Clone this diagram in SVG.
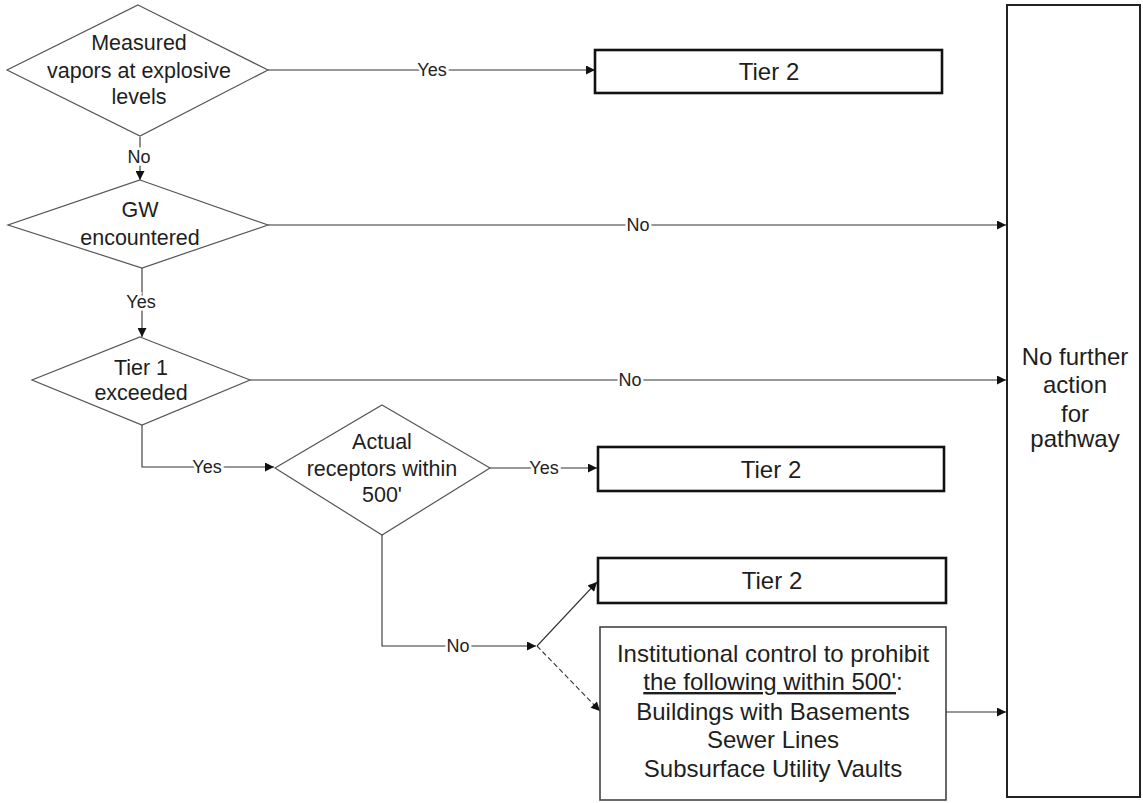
<svg xmlns="http://www.w3.org/2000/svg" width="1143" height="803" viewBox="0 0 1143 803">
<style>
.d{fill:#fff;stroke:#555;stroke-width:1.2}
.b{fill:#fff;stroke:#111;stroke-width:2.6}
.bi{fill:#fff;stroke:#444;stroke-width:1.6}
.t{font-family:"Liberation Sans",Arial,sans-serif;font-size:21.5px;fill:#1e1e1e;text-anchor:middle}
.tb{font-family:"Liberation Sans",Arial,sans-serif;font-size:24px;fill:#1e1e1e;text-anchor:middle}
.l{font-family:"Liberation Sans",Arial,sans-serif;font-size:18px;fill:#222;text-anchor:middle;stroke:#fff;stroke-width:5;paint-order:stroke}
.c{fill:none;stroke:#333;stroke-width:1.1}
</style>
<defs>
<marker id="a" viewBox="0 0 10 10" refX="10" refY="5" markerWidth="10" markerHeight="9" markerUnits="userSpaceOnUse" orient="auto">
<path d="M0,0 L10,5 L0,10 z" fill="#111"/>
</marker>
</defs>
<rect width="1143" height="803" fill="#fff"/>
<g id="connectors">
<path class="c" d="M268,70 H595" marker-end="url(#a)"/>
<path class="c" d="M140,137 V180" marker-end="url(#a)"/>
<path class="c" d="M268,225 H1006" marker-end="url(#a)"/>
<path class="c" d="M142,268 V337" marker-end="url(#a)"/>
<path class="c" d="M250,380 H1006" marker-end="url(#a)"/>
<path class="c" d="M142,425 V467 H274" marker-end="url(#a)"/>
<path class="c" d="M490,468 H597" marker-end="url(#a)"/>
<path class="c" d="M382,535 V646 H536" marker-end="url(#a)"/>
<path class="c" d="M537,646 L597,582" marker-end="url(#a)"/>
<path class="c" d="M537,646 L600,711" stroke-dasharray="5,3" marker-end="url(#a)"/>
<path class="c" d="M946,712 H1006" marker-end="url(#a)"/>
<text class="l" x="432" y="76">Yes</text>
<text class="l" x="139" y="163">No</text>
<text class="l" x="638" y="231">No</text>
<text class="l" x="141" y="308">Yes</text>
<text class="l" x="630" y="386">No</text>
<text class="l" x="207" y="473">Yes</text>
<text class="l" x="544" y="474">Yes</text>
<text class="l" x="458" y="652">No</text>
</g>
<g id="n1">
<polygon class="d" points="138,5 268,70 140,136 7,70"/>
<text class="t" x="139" y="50">Measured</text>
<text class="t" x="139" y="78">vapors at explosive</text>
<text class="t" x="139" y="104">levels</text>
</g>
<g id="n2">
<polygon class="d" points="140,180 268,225 142,268 8,225"/>
<text class="t" x="140" y="217">GW</text>
<text class="t" x="140" y="245">encountered</text>
</g>
<g id="n3">
<polygon class="d" points="140,337 250,380 142,425 32,380"/>
<text class="t" x="141" y="375">Tier 1</text>
<text class="t" x="141" y="400">exceeded</text>
</g>
<g id="n4">
<polygon class="d" points="382,405 490,468 382,535 275,468"/>
<text class="t" x="382" y="449">Actual</text>
<text class="t" x="382" y="476">receptors within</text>
<text class="t" x="382" y="502">500'</text>
</g>
<g id="n5">
<rect class="b" x="595" y="50" width="347" height="43"/>
<text class="tb" x="769" y="80">Tier 2</text>
</g>
<g id="n6">
<rect class="b" x="598" y="447" width="346" height="44"/>
<text class="tb" x="771" y="478">Tier 2</text>
</g>
<g id="n7">
<rect class="b" x="598" y="558" width="348" height="45"/>
<text class="tb" x="772" y="589">Tier 2</text>
</g>
<g id="n8">
<rect class="bi" x="600" y="627" width="346" height="173"/>
<text class="tb" x="773" y="662">Institutional control to prohibit</text>
<text class="tb" x="773" y="690"><tspan text-decoration="underline">the following within 500'</tspan>:</text>
<text class="tb" x="773" y="720">Buildings with Basements</text>
<text class="tb" x="773" y="748">Sewer Lines</text>
<text class="tb" x="773" y="777">Subsurface Utility Vaults</text>
</g>
<g id="n9">
<rect fill="#fff" stroke="#222" stroke-width="2" x="1007" y="5" width="133" height="792"/>
<text class="tb" x="1075" y="365">No further</text>
<text class="tb" x="1075" y="393">action</text>
<text class="tb" x="1075" y="422">for</text>
<text class="tb" x="1075" y="447">pathway</text>
</g>
</svg>
